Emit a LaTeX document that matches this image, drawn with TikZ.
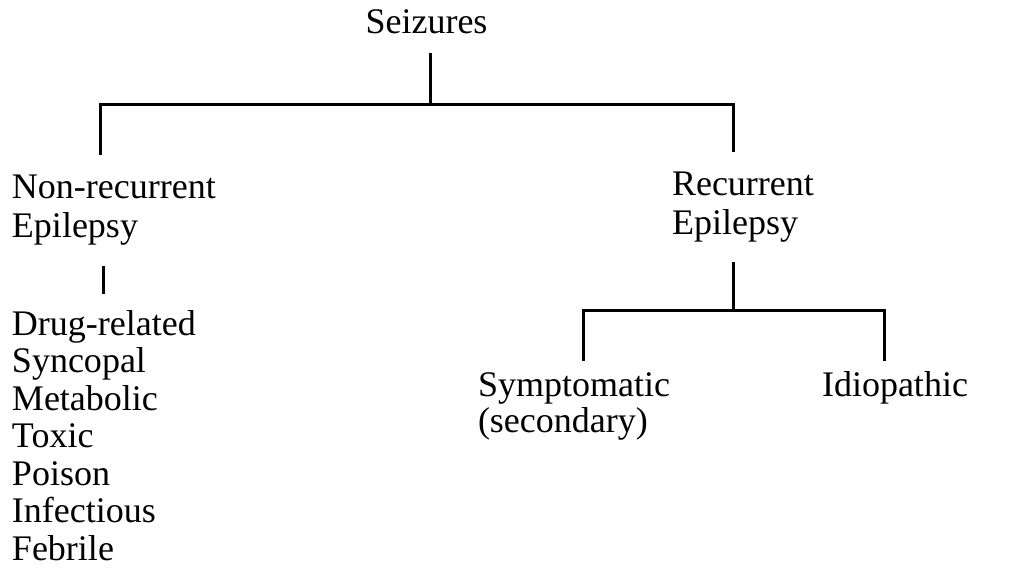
\documentclass[tikz,border=0pt]{standalone}
\usepackage{fontspec}
\setmainfont{Liberation Serif}
\begin{document}
\begin{tikzpicture}[x=1pt,y=-1pt,
  lbl/.style={inner sep=0pt,outer sep=0pt,align=left,font=\fontsize{36}{39}\selectfont},
  list/.style={inner sep=0pt,outer sep=0pt,align=left,font=\fontsize{36}{37.5}\selectfont},
  conn/.style={line width=3pt,line cap=rect}]
\useasboundingbox (0,0) rectangle (1022,578);
% labels
\node[lbl,anchor=base] (seiz) at (426.5,34) {Seizures};
\node[lbl,anchor=base west] (nonrec) at (12,237) {Non-recurrent\\Epilepsy};
\node[list,anchor=base west] (causes) at (12,560) {Drug-related\\Syncopal\\Metabolic\\Toxic\\Poison\\Infectious\\Febrile};
\node[lbl,anchor=base west] (rec) at (672,234) {Recurrent\\Epilepsy};
\node[list,anchor=base west,font=\fontsize{36}{36}\selectfont] (symp) at (478,432) {Symptomatic\\(secondary)};
\node[lbl,anchor=base west] (idio) at (822,396) {Idiopathic};
% connector points
\coordinate (s1) at (430,55);
\coordinate (s2) at (430,104);
\coordinate (hl) at (100,104);
\coordinate (hr) at (733,104);
\coordinate (nl) at (100,153);
\coordinate (c1) at (103,267);
\coordinate (c2) at (103,292);
\coordinate (rl) at (733,150);
\coordinate (r1) at (733,263);
\coordinate (r2) at (733,310);
\coordinate (bl) at (583,310);
\coordinate (br) at (884,310);
\coordinate (sl) at (583,359);
\coordinate (il) at (884,359);
% connectors
\draw[conn] (s1) -- (s2);
\draw[conn] (hl) -- (hr);
\draw[conn] (hl) -- (nl);
\draw[conn] (hr) -- (rl);
\draw[conn] (c1) -- (c2);
\draw[conn] (r1) -- (r2);
\draw[conn] (bl) -- (br);
\draw[conn] (bl) -- (sl);
\draw[conn] (br) -- (il);
\end{tikzpicture}
\end{document}
